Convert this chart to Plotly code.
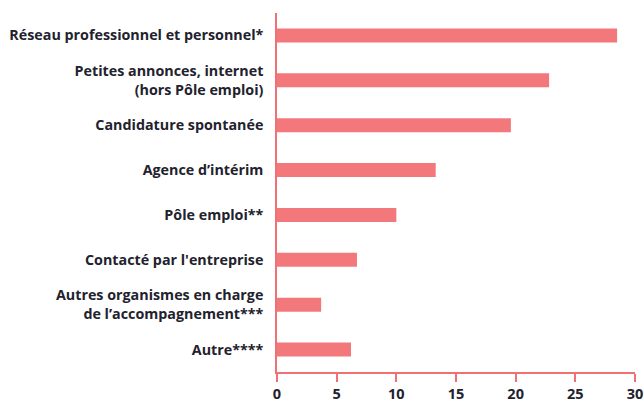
import plotly.graph_objects as go

categories = [
    "Réseau professionnel et personnel*",
    "Petites annonces, internet<br>(hors Pôle emploi)",
    "Candidature spontanée",
    "Agence d’intérim",
    "Pôle emploi**",
    "Contacté par l'entreprise",
    "Autres organismes en charge<br>de l’accompagnement***",
    "Autre****",
]
values = [28.5, 22.8, 19.6, 13.3, 10.0, 6.7, 3.7, 6.2]
x_ticks = [0, 5, 10, 15, 20, 25, 30]

bar_color = "#f2787c"
axis_color = "#f07073"
text_color = "#22222e"
font_family = "'Open Sans', sans-serif"

fig = go.Figure(
    go.Bar(
        y=categories,
        x=values,
        orientation="h",
        marker=dict(color=bar_color, line=dict(width=0)),
        width=0.31,
        hoverinfo="x+y",
    )
)

fig.update_layout(
    width=644,
    height=403,
    margin=dict(l=277, r=9, t=13, b=31),
    paper_bgcolor="white",
    plot_bgcolor="white",
    showlegend=False,
    font=dict(family=font_family, size=14, color=text_color),
)

fig.update_xaxes(
    range=[0, 30],
    tickvals=x_ticks,
    automargin=False,
    showgrid=False,
    zeroline=False,
    showline=True,
    linecolor=axis_color,
    linewidth=1.5,
    ticks="outside",
    ticklen=8,
    tickwidth=1.5,
    tickcolor=axis_color,
    ticklabelstandoff=0,
    tickfont=dict(family=font_family, size=14.5, color=text_color, weight="bold"),
)

fig.update_yaxes(
    categoryorder="array",
    categoryarray=categories[::-1],
    range=[-0.5, 7.5],
    automargin=False,
    showgrid=False,
    zeroline=False,
    showline=True,
    linecolor=axis_color,
    linewidth=1.5,
    ticks="",
    ticklabelstandoff=9,
    tickfont=dict(family=font_family, size=14.3, color=text_color, weight="bold"),
)

fig.write_html(
    "out.html",
    config={"displayModeBar": False},
    post_script="document.body.style.margin='0';document.body.style.overflow='hidden';",
)
